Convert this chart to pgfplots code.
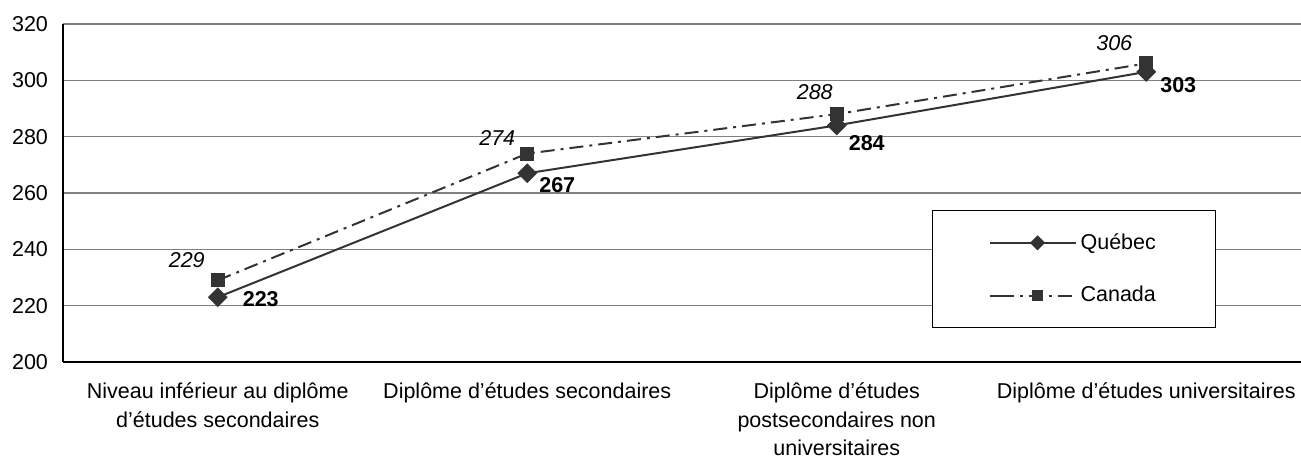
\documentclass[border=0pt]{standalone}
\usepackage{fontspec}
\setmainfont{Liberation Sans}
\usepackage{pgfplots}
\pgfplotsset{compat=1.18}
\definecolor{dk}{HTML}{333333}
\definecolor{gridc}{HTML}{808080}

\begin{document}
\begin{tikzpicture}
\begin{axis}[
  at={(0,0)}, anchor=south west,
  scale only axis, width=619pt, height=169pt,
  xmin=-0.5, xmax=3.5, ymin=200, ymax=320,
  ytick={200,220,...,320},
  xtick={0,1,2,3},
  xticklabels={Niveau inférieur au diplôme\\d’études secondaires,
    Diplôme d’études secondaires,
    Diplôme d'études\\postsecondaires non\\universitaires,
    Diplôme d'études universitaires},
  xticklabel style={align=center, font=\fontsize{10.75}{14.2}\selectfont, yshift=-7pt},
  yticklabel style={font=\fontsize{10.75}{12}\selectfont, xshift=-4pt},
  /pgf/number format/assume math mode=true,
  major tick length=0pt,
  ymajorgrids, grid style={gridc, line width=0.8pt},
  axis x line*=bottom, axis y line*=left,
  axis line style={black, line width=1pt, -},
  legend style={at={(0.702,0.45)}, anchor=north west, draw=black, fill=white,
    line width=0.5pt, inner xsep=28pt, inner ysep=9.5pt, row sep=13pt,
    font=\fontsize{10.75}{12}\selectfont},
  legend cell align=left,
  legend image code/.code={
    \path (-5pt,0pt) -- (0pt,0pt);
    \draw[mark repeat=2, mark phase=2, #1, every mark/.append style={scale=0.72}]
      plot coordinates {(0pt,0pt) (19pt,0pt) (38pt,0pt)};},
  visualization depends on={value \thisrow{dx} \as \dx},
  visualization depends on={value \thisrow{dy} \as \dy},
  point meta=explicit symbolic,
]
\addplot[dk, line width=1pt, mark=square*, mark size=3pt,
  mark options={rotate=45, solid},
  nodes near coords,
  nodes near coords style={anchor=center, xshift=\dx pt, yshift=\dy pt,
    font=\fontsize{10.75}{12}\selectfont\bfseries, text=black}]
  table[meta=lab] {
x y dx dy lab
0 223 21.5 -1 223
1 267 15 -6 267
2 284 15 -9 284
3 303 16 -6.5 303
};
\addlegendentry{Québec}
\addplot[dk, line width=1pt, mark=square*, mark size=3pt,
  dash pattern=on 7pt off 3pt on 1.5pt off 3pt,
  mark options={solid},
  nodes near coords,
  nodes near coords style={anchor=center, xshift=\dx pt, yshift=\dy pt,
    font=\fontsize{10.75}{12}\selectfont\itshape, text=black}]
  table[meta=lab] {
x y dx dy lab
0 229 -15.5 10 229
1 274 -15 8 274
2 288 -11 11 288
3 306 -16 10 306
};
\addlegendentry{Canada}
\end{axis}
\pgfresetboundingbox
\path (-31.5pt,-49.5pt) rectangle (619pt,181pt);
\end{tikzpicture}
\end{document}
